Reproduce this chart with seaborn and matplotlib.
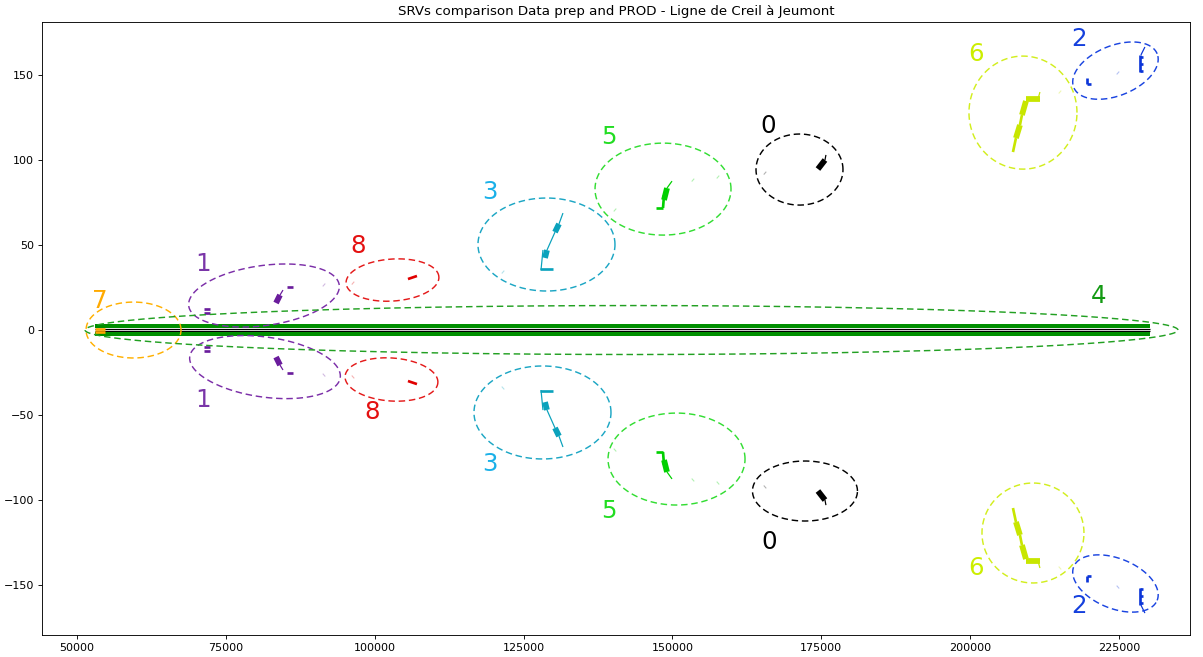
import numpy as np
import pandas as pd
import matplotlib
matplotlib.use("Agg")
import matplotlib.pyplot as plt
import seaborn as sns

# ---------------------------------------------------------------- data
cluster_ids = [0, 1, 2, 3, 4, 5, 6, 7, 8]
mark_colors = ["#000000", "#6a1c9c", "#0b35d8", "#0aa2bc", "#008f00",
               "#00d000", "#c8e600", "#ffa500", "#e00000"]
ellipse_colors = ["#000000", "#7b2ea8", "#1a44e0", "#1ca6c4", "#22a022",
                  "#33dd33", "#d2ee1e", "#ffb000", "#e41a1a"]
label_colors = ["#000000", "#7a35a8", "#1540dd", "#1ab0e8", "#139a13",
                "#22dd22", "#ccee00", "#ffaa00", "#e41010"]

# SRV segments on the Data prep side (PROD side is the mirror, y -> -y)
seg_cluster = [4, 0, 7,
               0, 0,
               1, 1, 1, 1, 1,
               8,
               3, 3, 3, 3, 3, 3,
               5, 5, 5, 5,
               6, 6, 6, 6, 6, 6,
               2, 2, 2, 2, 2, 2, 2]
seg_x0 = [53020, 53020, 53020,
          174430, 175610,
          71330, 71330, 83420, 84090, 85260,
          105580,
          127750, 127920, 128590, 128920, 130270, 130940,
          147230, 148410, 148580, 149080,
          207180, 207680, 208350, 208690, 209360, 211380,
          219600, 219600, 228500, 228500, 228500, 228500, 228670]
seg_x1 = [230190, 230190, 54700,
          175610, 175770,
          72330, 72330, 84090, 84590, 86270,
          107090,
          129930, 128250, 128920, 130270, 130940, 131610,
          148410, 148580, 149080, 149920,
          207680, 208350, 208690, 209360, 211710, 211710,
          219600, 220270, 228500, 229000, 229000, 229000, 229340]
seg_y0 = [2.35, 0.4, 0.9,
          94.7, 100.0,
          12.4, 10.0, 15.9, 20.6, 25.3,
          30.0,
          35.9, 35.3, 42.4, 47.0, 57.6, 62.4,
          71.8, 71.8, 76.5, 83.5,
          104.7, 112.9, 120.6, 126.5, 135.9, 135.9,
          144.7, 144.7, 151.8, 152.5, 156.5, 160.5, 161.8]
seg_y1 = [2.35, 0.4, 0.9,
          100.0, 103.0,
          12.4, 10.0, 20.6, 23.5, 25.3,
          31.8,
          35.9, 47.1, 47.0, 57.6, 62.4, 68.8,
          71.8, 79.4, 83.5, 87.6,
          112.9, 120.6, 126.5, 134.7, 135.9, 140.0,
          148.2, 144.7, 161.8, 152.5, 156.5, 160.5, 166.5]
seg_weight = ["band", "thin", "mid",
              "thick", "thin",
              "mid", "mid", "thick", "thin", "mid",
              "mid",
              "mid", "thin", "thick", "thin", "thick", "thin",
              "mid", "mid", "thick", "thin",
              "mid", "thick", "mid", "thick", "thick", "thin",
              "mid", "mid", "mid", "mid", "mid", "mid", "thin"]

# isolated short SRVs (faint specks)
faint_cluster = [0, 1, 8, 3, 5, 5, 5, 6, 2]
faint_x = [165540, 91480, 96350, 121540, 140350, 153440, 157640, 215070, 224810]
faint_y = [92.3, 26.5, 27.6, 34.1, 70.6, 88.2, 90.0, 140.0, 151.2]

# cluster envelopes (upper = Data prep, lower = PROD)
ell_cluster = [0, 0, 1, 1, 8, 8, 3, 3, 5, 5, 6, 6, 2, 2, 7, 4]
ell_cx = [171330, 172250, 81400, 81570, 102980, 102810, 128840, 128170,
          148410, 150680, 208860, 210540, 224390, 224390, 59490, 143120]
ell_cy = [94.4, -94.7, 20.3, -21.8, 29.4, -29.1, 50.3, -48.5,
          82.9, -75.9, 127.9, -119.4, 152.6, -149.1, 0.0, 0.0]
ell_w = [14610, 17630, 25520, 25520, 15620, 15620, 23010, 23010,
         22840, 23010, 18140, 17130, 15110, 15110, 15950, 183540]
ell_h = [41.8, 35.3, 35.3, 35.3, 24.7, 25.3, 54.7, 54.7,
         54.1, 54.1, 66.5, 58.8, 29.4, 29.4, 32.9, 28.8]
ell_angle = [0, 0, 8, -8, 4, -4, 0, 0, 0, 0, 0, 0, 22, -22, 0, 0]

# cluster numbers
lab_cluster = [0, 0, 1, 1, 2, 2, 3, 3, 4, 5, 5, 6, 6, 7, 8, 8]
lab_x = [166040, 166210, 71160, 71160, 218260, 218260, 119360, 119360,
         221620, 139340, 139340, 200970, 200970, 53860, 97190, 99540]
lab_y = [115.9, -128.8, 34.7, -45.3, 167.1, -166.5, 77.1, -82.9,
         15.9, 109.4, -110.6, 158.2, -144.1, 12.9, 45.3, -52.4]

x_ticks = [50000, 75000, 100000, 125000, 150000, 175000, 200000, 225000]
y_ticks = [-150, -100, -50, 0, 50, 100, 150]
title = "SRVs comparison Data prep and PROD - Ligne de Creil à Jeumont"

# ---------------------------------------------------------------- frames
rows = []
for i in range(len(seg_cluster)):
    for side in (1, -1):
        uid = f"{i}{'p' if side > 0 else 'm'}"
        rows.append((uid, seg_cluster[i], seg_weight[i], seg_x0[i], side * seg_y0[i]))
        rows.append((uid, seg_cluster[i], seg_weight[i], seg_x1[i], side * seg_y1[i]))
segs = pd.DataFrame(rows, columns=["srv", "cluster", "weight", "pk", "offset"])

frows = []
for i in range(len(faint_cluster)):
    for side in (1, -1):
        uid = f"f{i}{'p' if side > 0 else 'm'}"
        frows.append((uid, faint_cluster[i], faint_x[i] - 150, side * (faint_y[i] - 0.6)))
        frows.append((uid, faint_cluster[i], faint_x[i] + 150, side * (faint_y[i] + 0.6)))
faint = pd.DataFrame(frows, columns=["srv", "cluster", "pk", "offset"])

mark_pal = dict(zip(cluster_ids, mark_colors))
weight_lw = {"band": 3.6, "thick": 5.2, "mid": 2.4, "thin": 1.1}

# ---------------------------------------------------------------- figure
fig = plt.figure(figsize=(1203 / 80, 657 / 80), dpi=80)
ax = fig.add_axes([42 / 1203, 1 - 635 / 657, (1190 - 42) / 1203, (635 - 22) / 657])
xlim = (44120, 236910)
ylim = (-179.4, 181.2)
ax.set_xlim(*xlim)
ax.set_ylim(*ylim)

sns.lineplot(data=segs, x="pk", y="offset", units="srv", estimator=None,
             hue="cluster", palette=mark_pal, size="weight", sizes=weight_lw,
             sort=False, legend=False, ax=ax, solid_capstyle="butt")
sns.lineplot(data=faint, x="pk", y="offset", units="srv", estimator=None,
             hue="cluster", palette=mark_pal, sort=False, legend=False,
             ax=ax, linewidth=1.0, alpha=0.3)

# envelopes, drawn with a tilt defined on screen
p = ax.transData.transform([(0, 0), (1, 1)])
sx, sy = p[1, 0] - p[0, 0], p[1, 1] - p[0, 1]
t = np.linspace(0, 2 * np.pi, 400)
for c, cx, cy, w, h, ang in zip(ell_cluster, ell_cx, ell_cy, ell_w, ell_h, ell_angle):
    a, b = w / 2 * sx, h / 2 * sy
    th = np.deg2rad(ang)
    X = a * np.cos(t) * np.cos(th) - b * np.sin(t) * np.sin(th)
    Y = a * np.cos(t) * np.sin(th) + b * np.sin(t) * np.cos(th)
    ax.plot(cx + X / sx, cy + Y / sy, linestyle=(0, (4.5, 2.6)), linewidth=1.3,
            color=ellipse_colors[c])

for c, x, y in zip(lab_cluster, lab_x, lab_y):
    ax.text(x, y, str(c), color=label_colors[c], fontsize=22,
            ha="center", va="baseline")

ax.set_xlim(*xlim)
ax.set_ylim(*ylim)
ax.set_xticks(x_ticks)
ax.set_yticks(y_ticks)
ax.set_xlabel("")
ax.set_ylabel("")
ax.set_title(title, fontsize=12)

fig.savefig("out.png", dpi=80)
